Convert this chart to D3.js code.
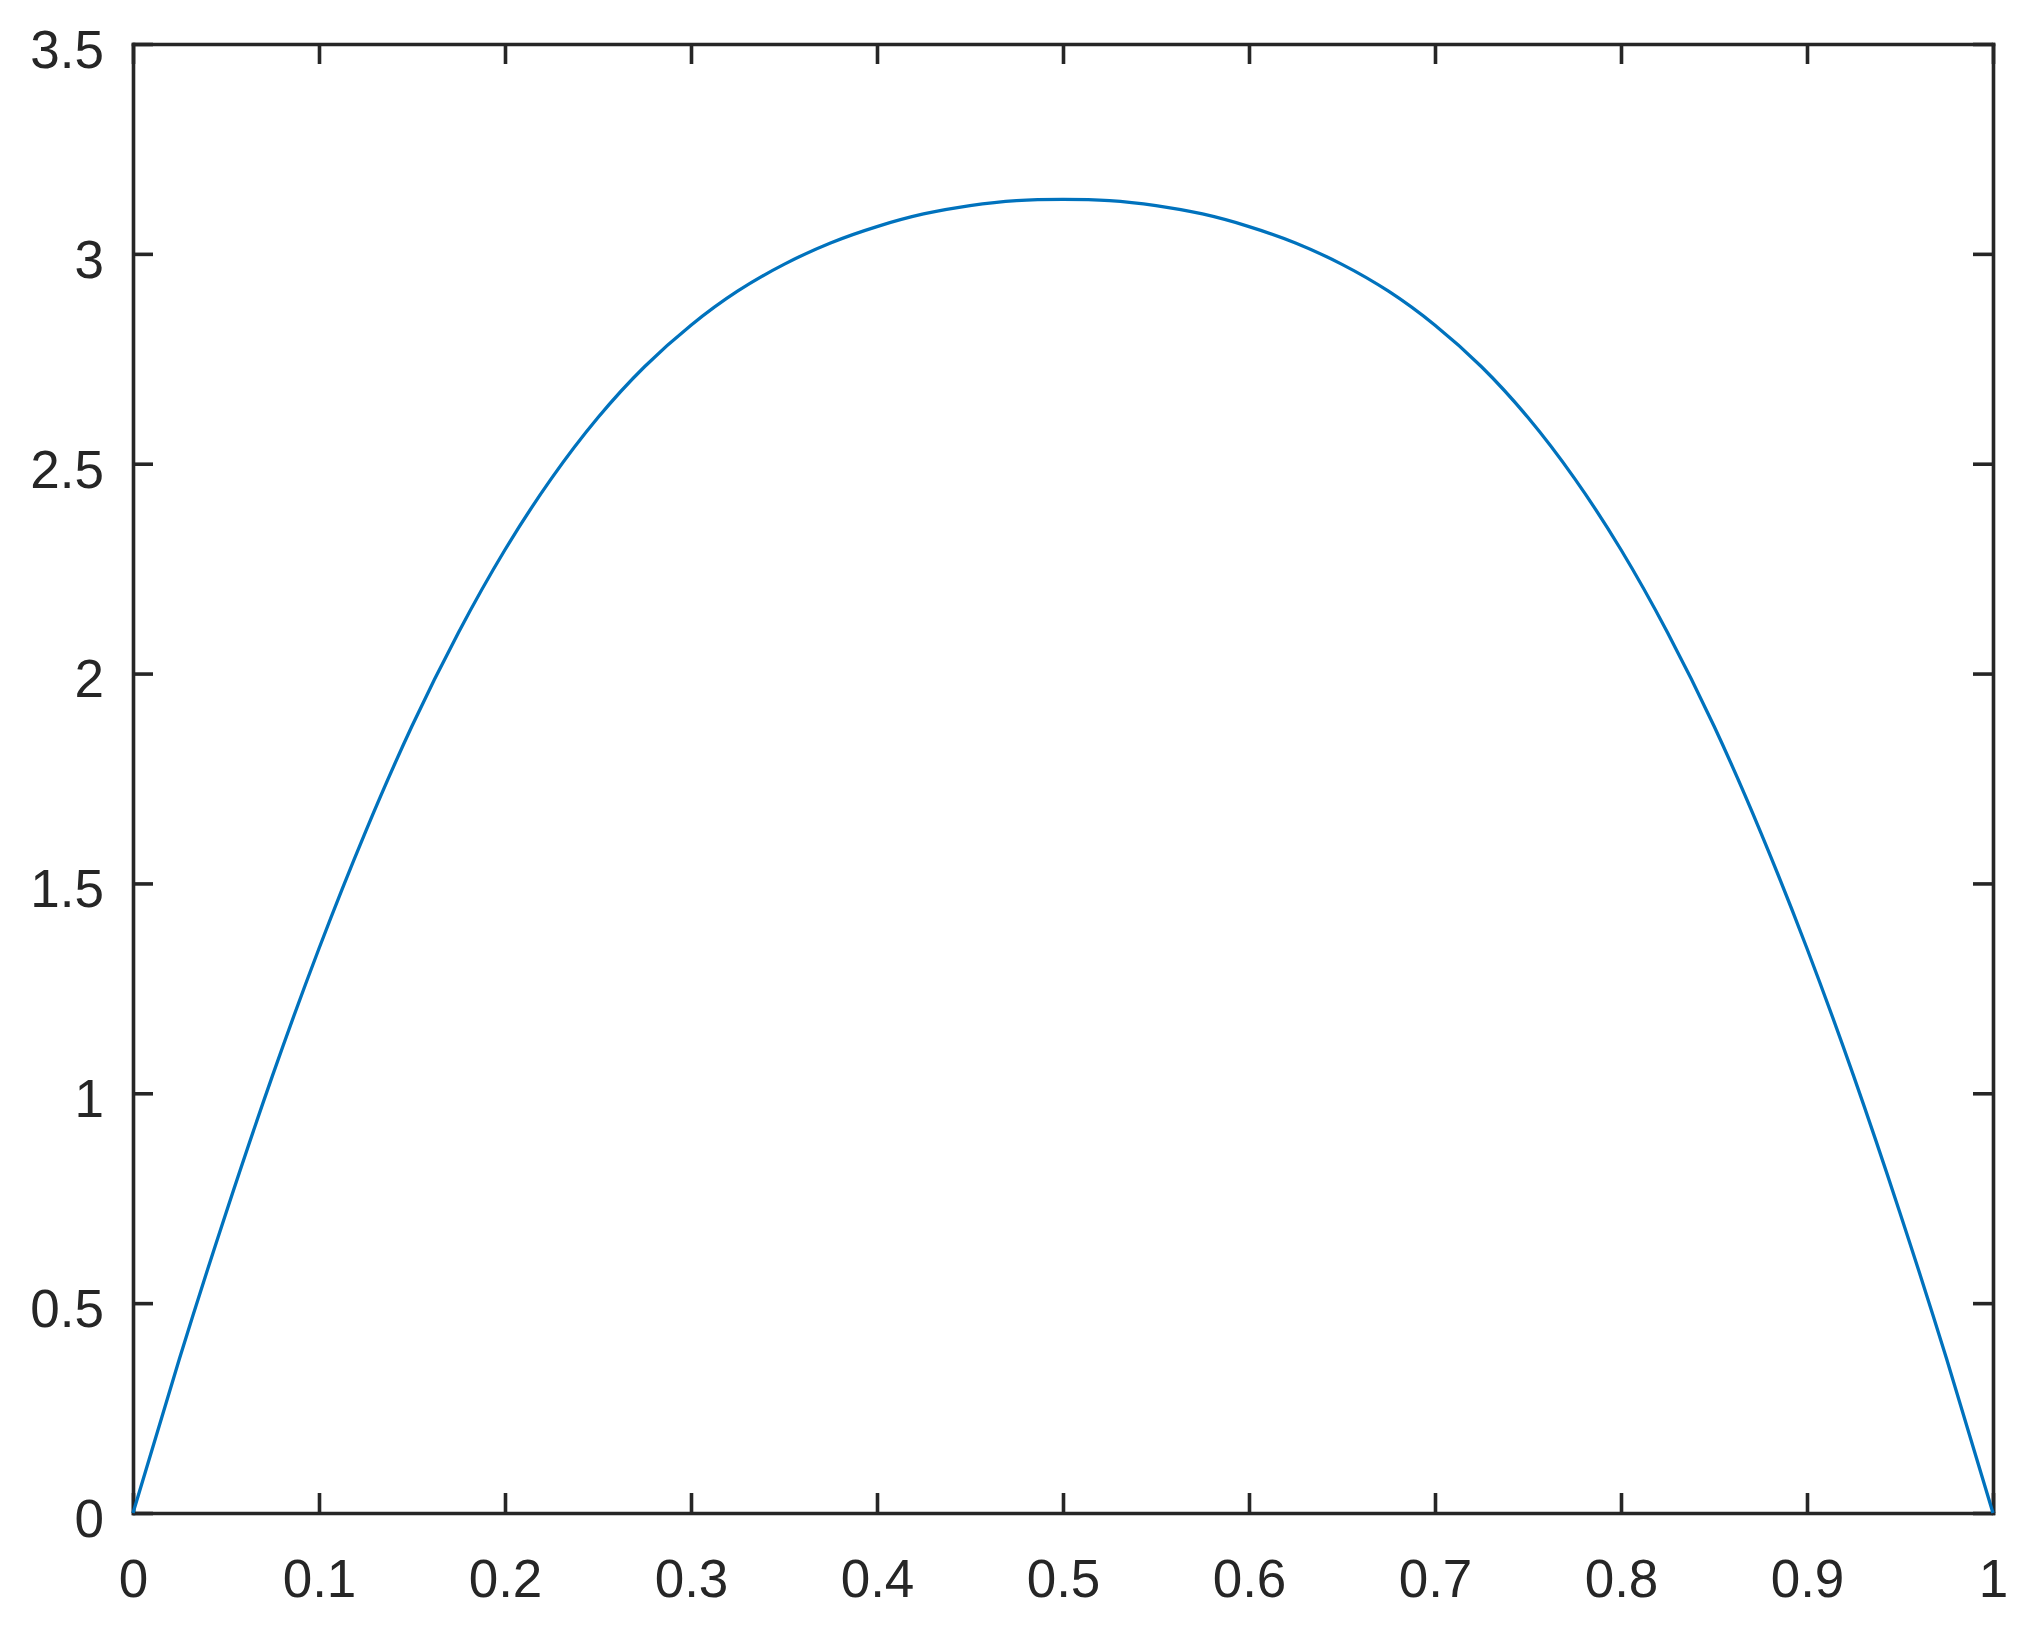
<!DOCTYPE html>
<html>
<head>
<meta charset="utf-8">
<script src="https://cdn.jsdelivr.net/npm/d3@7"></script>
<style>
  body { margin: 0; background: #fff; }
  svg { display: block; }
  .axis text { font-family: "Liberation Sans", Arial, Helvetica, sans-serif; font-size: 53px; fill: #262626; }
  .axis path, .axis line { stroke: #262626; stroke-width: 3.6; }
</style>
</head>
<body>
<svg id="chart"></svg>
<script>
const width = 2032;
const height = 1629;
const margin = {left: 133, right: 39, top: 44, bottom: 116};

// values
const xValues = [0, 0.025, 0.05, 0.075, 0.1, 0.125, 0.15, 0.175, 0.2, 0.225,
                 0.25, 0.275, 0.3, 0.325, 0.35, 0.375, 0.4, 0.425, 0.45, 0.475,
                 0.5, 0.525, 0.55, 0.575, 0.6, 0.625, 0.65, 0.675, 0.7, 0.725,
                 0.75, 0.775, 0.8, 0.825, 0.85, 0.875, 0.9, 0.925, 0.95, 0.975, 1];
const yValues = [0, 0.368, 0.715, 1.042, 1.345, 1.623, 1.875, 2.098, 2.295, 2.465,
                 2.61, 2.731, 2.83, 2.911, 2.975, 3.026, 3.065, 3.095, 3.115, 3.127,
                 3.13, 3.127, 3.115, 3.095, 3.065, 3.026, 2.975, 2.911, 2.83, 2.731,
                 2.61, 2.465, 2.295, 2.098, 1.875, 1.623, 1.345, 1.042, 0.715, 0.368, 0];

const xTicks = [0, 0.1, 0.2, 0.3, 0.4, 0.5, 0.6, 0.7, 0.8, 0.9, 1];
const yTicks = [0, 0.5, 1, 1.5, 2, 2.5, 3, 3.5];

const svg = d3.select('#chart')
    .attr('width', width)
    .attr('height', height);

svg.append('rect').attr('width', width).attr('height', height).attr('fill', '#fff');

const x = d3.scaleLinear().domain([0, 1]).range([margin.left, width - margin.right]);
const y = d3.scaleLinear().domain([0, 3.5]).range([height - margin.bottom, margin.top]);

const tickLen = 20;

svg.append('g').attr('class', 'axis')
    .attr('transform', `translate(0, ${height - margin.bottom})`)
    .call(d3.axisBottom(x).tickValues(xTicks).tickFormat(d3.format('')).tickSizeInner(-tickLen).tickSizeOuter(0).tickPadding(46));

svg.append('g').attr('class', 'axis')
    .attr('transform', `translate(0, ${margin.top})`)
    .call(d3.axisTop(x).tickValues(xTicks).tickFormat('').tickSizeInner(-tickLen).tickSizeOuter(0));

const yAxis = svg.append('g').attr('class', 'axis')
    .attr('transform', `translate(${margin.left}, 0)`)
    .call(d3.axisLeft(y).tickValues(yTicks).tickFormat(d3.format('')).tickSizeInner(-tickLen).tickSizeOuter(0).tickPadding(29));
yAxis.selectAll('text').attr('dy', '0.44em');

svg.append('g').attr('class', 'axis')
    .attr('transform', `translate(${width - margin.right}, 0)`)
    .call(d3.axisRight(y).tickValues(yTicks).tickFormat('').tickSizeInner(-tickLen).tickSizeOuter(0));

svg.selectAll('.axis path').attr('stroke-linecap', 'square');

const points = xValues.map((v, i) => [v, yValues[i]]);

const line = d3.line()
    .x(d => x(d[0]))
    .y(d => y(d[1]))
    .curve(d3.curveNatural);

svg.append('path')
    .datum(points)
    .attr('fill', 'none')
    .attr('stroke', '#0072BD')
    .attr('stroke-width', 3.3)
    .attr('d', line);
</script>
</body>
</html>
